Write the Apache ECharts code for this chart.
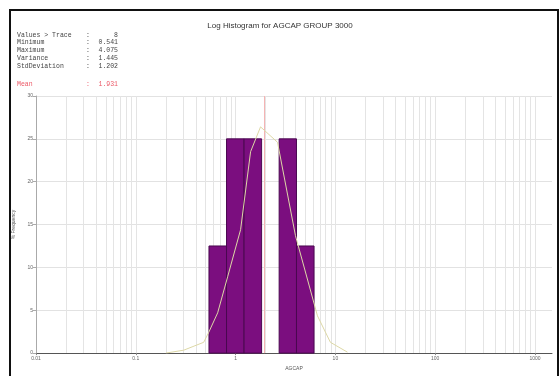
<!DOCTYPE html>
<html>
<head>
<meta charset="utf-8">
<script src="https://cdn.jsdelivr.net/npm/echarts@6/dist/echarts.min.js"></script>
<style>
  html, body { margin: 0; padding: 0; background: #fff; }
  #chart { width: 560px; height: 376px; }
</style>
</head>
<body>
<div id="chart"></div>
<script>
// Histogram bins (log-spaced edges) and their % frequency
const binEdges = [0.541, 0.811, 1.216, 1.822, 2.731, 4.075, 6.11];
const binFreq = [12.5, 25, 25, 0, 25, 12.5];

// Fitted log-normal frequency curve
const curveX = [0.200, 0.302, 0.479, 0.537, 0.661, 0.832, 1.122, 1.413, 1.778, 2.63, 3.98, 6.61, 8.91, 13.2];
const curveY = [0, 0.34, 1.26, 2.4, 4.7, 8.9, 14.4, 23.5, 26.4, 24.6, 13.7, 4.35, 1.26, 0.11];

const meanValue = 1.931;

// Summary statistics block
const statNames = ['Values > Trace', 'Minimum', 'Maximum', 'Variance', 'StdDeviation'];
const statValues = ['8', '0.541', '4.075', '1.445', '1.202'];

// Axis settings
const xMin = 0.01, xMax = 1480;
const decades = [0.01, 0.1, 1, 10, 100, 1000];
const multiples = [1, 2, 3, 4, 5, 6, 7, 8, 9];
const yMax = 30, yStep = 5;

const gridValues = [];
decades.forEach(d => multiples.forEach(m => {
  const v = +(d * m).toPrecision(3);
  if (v >= xMin && v <= xMax) gridValues.push(v);
}));

const bins = binFreq.map((f, i) => [binEdges[i], binEdges[i + 1], f]);
const curve = curveX.map((x, i) => [x, curveY[i]]);

const chart = echarts.init(document.getElementById('chart'), null, { renderer: 'canvas' });

const mono = '"Liberation Mono", "DejaVu Sans Mono", monospace';
const statTop = 35, statStep = 7.75;
const graphics = [
  { type: 'rect', shape: { x: 10, y: 10, width: 548, height: 380 },
    style: { fill: null, stroke: '#111', lineWidth: 2 }, silent: true }
];
statNames.forEach((n, i) => {
  const y = statTop + i * statStep;
  graphics.push({ type: 'text', x: 17, y: y, style: { text: n, font: '6.5px ' + mono, fill: '#444', verticalAlign: 'middle' } });
  graphics.push({ type: 'text', x: 86, y: y, style: { text: ':', font: '6.5px ' + mono, fill: '#444', verticalAlign: 'middle' } });
  graphics.push({ type: 'text', x: 118, y: y, style: { text: statValues[i], font: '6.5px ' + mono, fill: '#444', align: 'right', verticalAlign: 'middle' } });
});
graphics.push({ type: 'text', x: 17, y: 84, style: { text: 'Mean', font: '6.5px ' + mono, fill: '#ec5a68', verticalAlign: 'middle' } });
graphics.push({ type: 'text', x: 86, y: 84, style: { text: ':', font: '6.5px ' + mono, fill: '#ec5a68', verticalAlign: 'middle' } });
graphics.push({ type: 'text', x: 118, y: 84, style: { text: meanValue.toFixed(3), font: '6.5px ' + mono, fill: '#ec5a68', align: 'right', verticalAlign: 'middle' } });

chart.setOption({
  animation: false,
  backgroundColor: '#fff',
  title: {
    text: 'Log Histogram for AGCAP GROUP 3000',
    left: 'center',
    top: 17,
    textStyle: { fontFamily: 'Liberation Sans, Arial, sans-serif', fontSize: 8, fontWeight: 'normal', color: '#333' }
  },
  graphic: graphics,
  grid: { left: 36, right: 8, top: 96, bottom: 18 },
  xAxis: {
    type: 'log',
    logBase: 10,
    min: xMin,
    max: xMax,
    name: 'AGCAP',
    nameLocation: 'middle',
    nameGap: 10,
    nameTextStyle: { fontSize: 5, color: '#555', fontFamily: 'Liberation Sans, Arial, sans-serif' },
    axisLine: { lineStyle: { color: '#555', width: 1 } },
    axisTick: { show: true, length: 2, lineStyle: { color: '#888' } },
    axisLabel: {
      fontSize: 5, color: '#666', margin: 3, showMaxLabel: false,
      fontFamily: 'Liberation Sans, Arial, sans-serif',
      formatter: v => String(+Number(v).toPrecision(3))
    },
    splitLine: { show: false }
  },
  yAxis: {
    type: 'value',
    min: 0,
    max: yMax,
    interval: yStep,
    name: '% Frequency',
    nameLocation: 'middle',
    nameGap: 12,
    nameTextStyle: { fontSize: 5, color: '#555', fontFamily: 'Liberation Sans, Arial, sans-serif' },
    axisLine: { show: true, lineStyle: { color: '#aaa', width: 1 } },
    axisTick: { show: true, length: 3, lineStyle: { color: '#aaa' } },
    axisLabel: { fontSize: 5, color: '#666', margin: 3, fontFamily: 'Liberation Sans, Arial, sans-serif' },
    splitLine: { show: true, lineStyle: { color: '#e2e2e2', width: 1 } }
  },
  series: [
    {
      // vertical log grid lines at 1..9 x each decade
      type: 'line',
      data: [],
      z: 0,
      silent: true,
      markLine: {
        z: 0,
        silent: true,
        symbol: ['none', 'none'],
        label: { show: false },
        lineStyle: { color: '#e4e4e4', width: 1, type: 'solid' },
        data: gridValues.map(v => ({ xAxis: v }))
      }
    },
    {
      type: 'line',
      data: [],
      z: 1,
      silent: true,
      markLine: {
        z: 1,
        silent: true,
        symbol: ['none', 'none'],
        label: { show: false },
        lineStyle: { color: '#f5b4b4', width: 1, type: 'solid' },
        data: [{ xAxis: meanValue }]
      }
    },
    {
      type: 'custom',
      z: 10,
      data: bins,
      encode: { x: [0, 1], y: 2 },
      renderItem: function (params, api) {
        const h = api.value(2);
        if (!h) return null;
        const p0 = api.coord([api.value(0), h]);
        const p1 = api.coord([api.value(1), 0]);
        return {
          type: 'rect',
          shape: { x: p0[0], y: p0[1], width: p1[0] - p0[0], height: p1[1] - p0[1] },
          style: { fill: '#7b0e7f', stroke: '#4a0850', lineWidth: 1 }
        };
      }
    },
    {
      type: 'line',
      z: 12,
      data: curve,
      symbol: 'none',
      lineStyle: { color: '#ddd8a6', width: 1 }
    }
  ]
});
</script>
</body>
</html>
